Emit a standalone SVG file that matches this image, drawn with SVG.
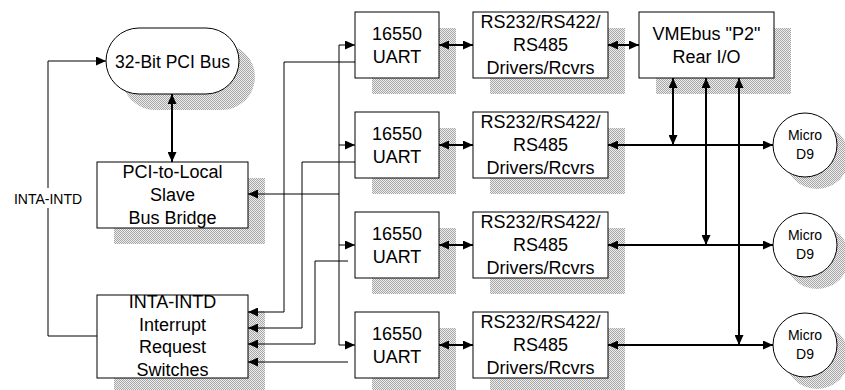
<svg xmlns="http://www.w3.org/2000/svg" width="845" height="390" viewBox="0 0 845 390">
<style>
.box{fill:#fff;stroke:#000;stroke-width:1}
.sh{fill:url(#dots);stroke:none}
.t{font-family:"Liberation Sans",Arial,sans-serif;font-size:18px;fill:#000;text-anchor:middle}
.ts{font-family:"Liberation Sans",Arial,sans-serif;font-size:14px;fill:#000;text-anchor:middle}
.c1{fill:none;stroke:#000;stroke-width:1}
.c2{fill:none;stroke:#000;stroke-width:2}
.a1{marker-end:url(#ah)}
.a2{marker-start:url(#ah);marker-end:url(#ah)}
</style>
<defs>
<pattern id="dots" width="2" height="2" patternUnits="userSpaceOnUse">
<rect width="2" height="2" fill="#eeeeee"/>
<rect width="1" height="1" fill="#a6a6a6"/>
<rect x="1" y="1" width="1" height="1" fill="#a6a6a6"/>
</pattern>
<marker id="ah" viewBox="0 0 10 9" refX="10" refY="4.5" markerWidth="10" markerHeight="9" markerUnits="userSpaceOnUse" orient="auto-start-reverse">
<path d="M0,0 L10,4.5 L0,9 z" fill="#000"/>
</marker>
</defs>

<g id="pci-bus">
<rect class="sh" x="122" y="44" width="133" height="66" rx="33"/>
<rect class="box" x="106" y="28" width="133" height="66" rx="33"/>
<text class="t" x="172.5" y="68" style="font-size:17.5px">32-Bit PCI Bus</text>
</g>

<g id="bridge">
<rect class="sh" x="114" y="178" width="151" height="66"/>
<rect class="box" x="97" y="162" width="151" height="66"/>
<text class="t" x="172.5" y="178">PCI-to-Local</text>
<text class="t" x="172.5" y="201">Slave</text>
<text class="t" x="172.5" y="224">Bus Bridge</text>
</g>

<g id="irq-switches">
<rect class="sh" x="114" y="311" width="151" height="83"/>
<rect class="box" x="97" y="295" width="151" height="83"/>
<text class="t" x="172.5" y="308">INTA-INTD</text>
<text class="t" x="172.5" y="330.5">Interrupt</text>
<text class="t" x="172.5" y="353">Request</text>
<text class="t" x="172.5" y="375.5">Switches</text>
</g>

<g id="uart1">
<rect class="sh" x="372" y="28" width="84" height="66"/>
<rect class="box" x="355" y="12" width="84" height="66"/>
<text class="t" x="397" y="39.5">16550</text>
<text class="t" x="397" y="63">UART</text>
</g>
<g id="uart2">
<rect class="sh" x="372" y="128" width="84" height="66"/>
<rect class="box" x="355" y="112" width="84" height="66"/>
<text class="t" x="397" y="139.5">16550</text>
<text class="t" x="397" y="163">UART</text>
</g>
<g id="uart3">
<rect class="sh" x="372" y="228" width="84" height="66"/>
<rect class="box" x="355" y="212" width="84" height="66"/>
<text class="t" x="397" y="239.5">16550</text>
<text class="t" x="397" y="263">UART</text>
</g>
<g id="uart4">
<rect class="sh" x="372" y="328" width="84" height="66"/>
<rect class="box" x="355" y="312" width="84" height="66"/>
<text class="t" x="397" y="339.5">16550</text>
<text class="t" x="397" y="363">UART</text>
</g>

<g id="drv1">
<rect class="sh" x="490" y="28" width="135" height="66"/>
<rect class="box" x="473" y="12" width="135" height="66"/>
<text class="t" x="540.5" y="28">RS232/RS422/</text>
<text class="t" x="540.5" y="51">RS485</text>
<text class="t" x="540.5" y="74">Drivers/Rcvrs</text>
</g>
<g id="drv2">
<rect class="sh" x="490" y="128" width="135" height="66"/>
<rect class="box" x="473" y="112" width="135" height="66"/>
<text class="t" x="540.5" y="128">RS232/RS422/</text>
<text class="t" x="540.5" y="151">RS485</text>
<text class="t" x="540.5" y="174">Drivers/Rcvrs</text>
</g>
<g id="drv3">
<rect class="sh" x="490" y="228" width="135" height="66"/>
<rect class="box" x="473" y="212" width="135" height="66"/>
<text class="t" x="540.5" y="228">RS232/RS422/</text>
<text class="t" x="540.5" y="251">RS485</text>
<text class="t" x="540.5" y="274">Drivers/Rcvrs</text>
</g>
<g id="drv4">
<rect class="sh" x="490" y="328" width="135" height="66"/>
<rect class="box" x="473" y="312" width="135" height="66"/>
<text class="t" x="540.5" y="328">RS232/RS422/</text>
<text class="t" x="540.5" y="351">RS485</text>
<text class="t" x="540.5" y="374">Drivers/Rcvrs</text>
</g>

<g id="vme-p2">
<rect class="sh" x="656" y="28" width="135" height="66"/>
<rect class="box" x="639" y="12" width="135" height="66"/>
<text class="t" x="706.5" y="39.5">VMEbus "P2"</text>
<text class="t" x="706.5" y="63">Rear I/O</text>
</g>

<g id="microd9-1">
<circle class="sh" cx="817" cy="157" r="32"/>
<circle class="box" cx="805" cy="145" r="32"/>
<text class="ts" x="805" y="140">Micro</text>
<text class="ts" x="805" y="159">D9</text>
</g>
<g id="microd9-2">
<circle class="sh" cx="817" cy="257" r="32"/>
<circle class="box" cx="805" cy="245" r="32"/>
<text class="ts" x="805" y="240">Micro</text>
<text class="ts" x="805" y="259">D9</text>
</g>
<g id="microd9-3">
<circle class="sh" cx="817" cy="357" r="32"/>
<circle class="box" cx="805" cy="345" r="32"/>
<text class="ts" x="805" y="340">Micro</text>
<text class="ts" x="805" y="359">D9</text>
</g>

<g id="label-inta">
<text class="ts" x="48" y="204">INTA-INTD</text>
</g>

<g id="connectors">
<path class="c1" d="M97,336 H48 V208"/>
<path class="c1 a1" d="M48,188 V61 H106"/>
<path class="c2 a2" d="M172,94 V162"/>
<path class="c1 a1" d="M339,194 H248"/>
<path class="c1" d="M339,45 V345"/>
<path class="c1 a1" d="M339,45 H355"/>
<path class="c1 a1" d="M339,145 H355"/>
<path class="c1 a1" d="M339,245 H355"/>
<path class="c1 a1" d="M339,345 H355"/>
<path class="c1 a1" d="M355,62 H284 V312 H248"/>
<path class="c1 a1" d="M355,162 H302 V328 H248"/>
<path class="c1 a1" d="M348,261 H315 V344 H248"/>
<path class="c1 a1" d="M348,362 H248"/>
<path class="c2 a2" d="M439,45 H473"/>
<path class="c2 a2" d="M439,145 H473"/>
<path class="c2 a2" d="M439,245 H473"/>
<path class="c2 a2" d="M439,345 H473"/>
<path class="c2 a2" d="M608,45 H639"/>
<path class="c2 a2" d="M608,145 H773"/>
<path class="c2 a2" d="M608,245 H773"/>
<path class="c2 a2" d="M608,345 H773"/>
<path class="c2 a2" d="M673,78 V145"/>
<path class="c2 a2" d="M706,78 V245"/>
<path class="c2 a2" d="M739,78 V345"/>
</g>
</svg>
